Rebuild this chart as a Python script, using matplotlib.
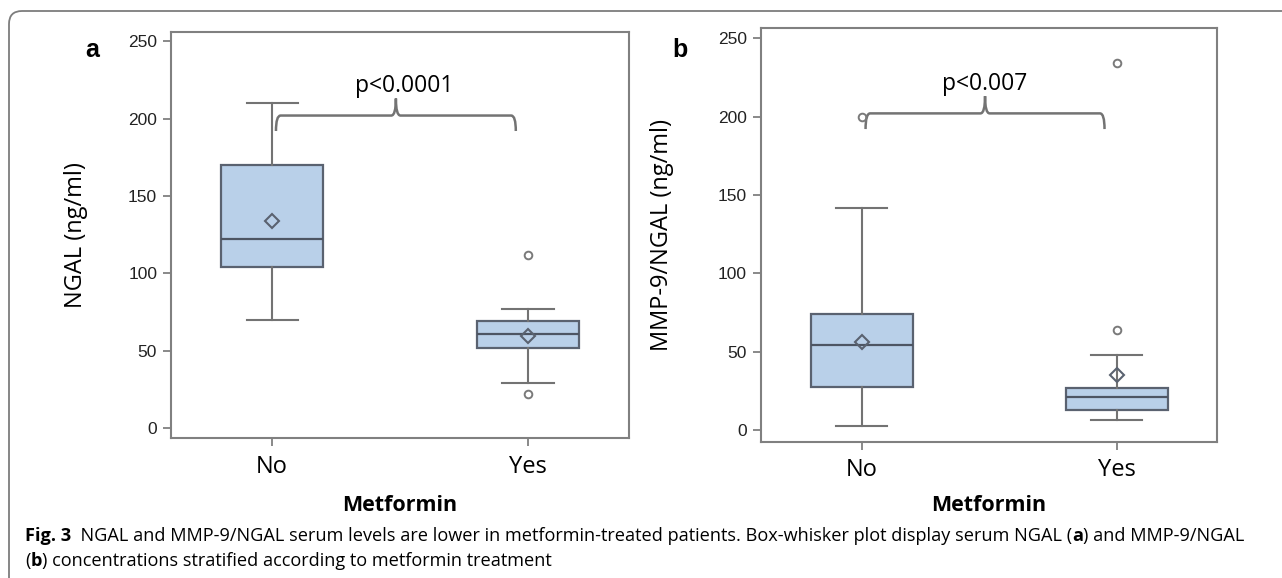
import matplotlib
matplotlib.use("Agg")
import matplotlib.pyplot as plt
from matplotlib.path import Path
from matplotlib.patches import PathPatch, FancyBboxPatch

groups = ["No", "Yes"]

# panel a: NGAL (ng/ml)
ngal_q1 = [104, 52]
ngal_med = [122, 61]
ngal_q3 = [170, 69]
ngal_lo = [70, 29]
ngal_hi = [210, 77]
ngal_mean = [134, 59.5]
ngal_out = [[], [112, 22]]

# panel b: MMP-9/NGAL (ng/ml)
ratio_q1 = [27.6, 12.8]
ratio_med = [54, 21.3]
ratio_q3 = [73.8, 26.6]
ratio_lo = [2.8, 6.4]
ratio_hi = [141.5, 47.9]
ratio_mean = [56, 35]
ratio_out = [[199.5], [234, 64]]

p_labels = ["p<0.0001", "p<0.007"]
brace_level = [202, 202]

box_fill = "#b9d0e9"
box_edge = "#5a6270"
line_gray = "#737373"

fig = plt.figure(figsize=(12.82, 5.78), dpi=100)

# outer rounded frame of the figure page
fig.patches.append(FancyBboxPatch((0.09, -0.3), 13.5, 5.97,
                                  boxstyle="round,pad=0,rounding_size=0.13",
                                  transform=fig.dpi_scale_trans, fc="none",
                                  ec="#7d7d7d", lw=1.3))

ax_a = fig.add_axes([0.1334, 0.2422, 0.357, 0.7024])
ax_b = fig.add_axes([0.5936, 0.2358, 0.3557, 0.7158])


def draw_brace(ax, x0, x1, y, drop, rise, dx):
    xm = (x0 + x1) / 2
    verts = [(x0, y - drop), (x0, y), (x0 + dx, y),
             (xm - dx, y), (xm, y), (xm, y + rise),
             (xm, y + rise), (xm, y), (xm + dx, y),
             (x1 - dx, y), (x1, y), (x1, y - drop)]
    codes = [Path.MOVETO, Path.CURVE3, Path.CURVE3,
             Path.LINETO, Path.CURVE3, Path.CURVE3,
             Path.MOVETO, Path.CURVE3, Path.CURVE3,
             Path.LINETO, Path.CURVE3, Path.CURVE3]
    ax.add_patch(PathPatch(Path(verts, codes), fc="none", ec=line_gray, lw=1.8,
                           capstyle="butt", joinstyle="round"))


def draw_panel(ax, q1, med, q3, lo, hi, mean, out, ylabel, ylim, ptext, plevel, ptext_x,
               ylab_x, xlab_y):
    stats = []
    for i, g in enumerate(groups):
        stats.append(dict(label=g, q1=q1[i], med=med[i], q3=q3[i], whislo=lo[i],
                          whishi=hi[i], mean=mean[i], fliers=out[i]))
    ax.bxp(stats, positions=[1, 2], widths=0.4, capwidths=0.2, showmeans=True,
           patch_artist=True,
           boxprops=dict(facecolor=box_fill, edgecolor=box_edge, linewidth=1.6),
           medianprops=dict(color="#4d5563", linewidth=1.6),
           whiskerprops=dict(color=line_gray, linewidth=1.5),
           capprops=dict(color=line_gray, linewidth=1.5),
           meanprops=dict(marker="D", markerfacecolor="none", markeredgecolor=box_edge,
                          markersize=7, markeredgewidth=1.5),
           flierprops=dict(marker="o", markerfacecolor="none", markeredgecolor="#7a7a7a",
                           markersize=5.5, markeredgewidth=1.4))
    ax.set_xlim(0.605, 2.393)
    ax.set_ylim(*ylim)
    ax.set_yticks([0, 50, 100, 150, 200, 250])
    for s in ax.spines.values():
        s.set_color("#808080")
        s.set_linewidth(1.5)
    ax.tick_params(axis="y", direction="out", length=6, width=1.3, color="#808080",
                   pad=4, labelsize=12.5, labelcolor="#222222")
    ax.tick_params(axis="x", direction="out", length=6, width=1.3, color="#808080",
                   pad=6, labelsize=17)
    for t in ax.get_yticklabels():
        t.set_family("Liberation Sans")
    for t in ax.get_xticklabels():
        t.set_family("Open Sans")

    draw_brace(ax, 1.015, 1.952, plevel, 10, 11, 0.018)
    ax.text(ptext_x, 217, ptext, ha="center", va="baseline", fontsize=16.5,
            family="Open Sans")

    ax.set_ylabel(ylabel, fontsize=17, family="Open Sans", va="bottom")
    ax.yaxis.set_label_coords(ylab_x, 0.5)
    ax.set_xlabel("Metformin", fontsize=15.5, fontweight="bold", family="Open Sans",
                  va="top")
    ax.xaxis.set_label_coords(0.5, xlab_y)


draw_panel(ax_a, ngal_q1, ngal_med, ngal_q3, ngal_lo, ngal_hi, ngal_mean, ngal_out,
           "NGAL (ng/ml)", (-6.5, 256), p_labels[0], brace_level[0], 1.516, -0.181, -0.140)
draw_panel(ax_b, ratio_q1, ratio_med, ratio_q3, ratio_lo, ratio_hi, ratio_mean, ratio_out,
           "MMP-9/NGAL (ng/ml)", (-7.5, 256.5), p_labels[1], brace_level[1], 1.482, -0.191,
           -0.129)

fig.text(0.85, 5.21, "a", transform=fig.dpi_scale_trans, fontsize=18, fontweight="bold",
         family="Liberation Sans", va="baseline")
fig.text(6.72, 5.21, "b", transform=fig.dpi_scale_trans, fontsize=18, fontweight="bold",
         family="Liberation Sans", va="baseline")

# caption with bold pieces, laid out left to right
renderer = fig.canvas.get_renderer()


def write_row(x, y, parts, size=13.1):
    for s, w in parts:
        t = fig.text(x, y, s, transform=fig.dpi_scale_trans, fontsize=size, fontweight=w,
                     family="Open Sans", va="baseline")
        bb = t.get_window_extent(renderer)
        x += bb.width / fig.dpi


write_row(0.25, 0.37, [("Fig. 3", "bold"),
                       ("  NGAL and MMP-9/NGAL serum levels are lower in metformin-treated "
                        "patients. Box-whisker plot display serum NGAL (", "normal"),
                       ("a", "bold"), (") and MMP-9/NGAL", "normal")])
write_row(0.25, 0.12, [("(", "normal"), ("b", "bold"),
                       (") concentrations stratified according to metformin treatment",
                        "normal")])

fig.savefig("out.png", dpi=100)
